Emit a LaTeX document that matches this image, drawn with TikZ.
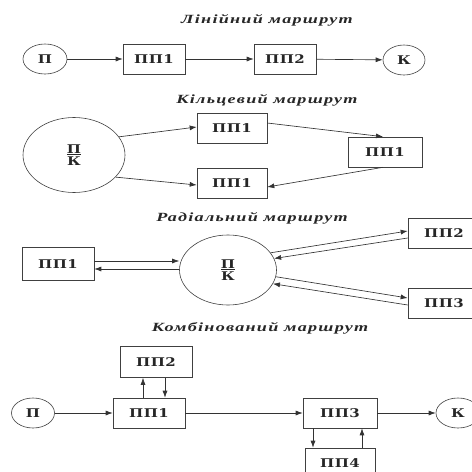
\documentclass[tikz,border=0pt]{standalone}
\usepackage{fontspec}
\setmainfont{Liberation Serif}
\newfontfamily\boxfont[FakeStretch=1.25,LetterSpace=4]{DejaVu Serif}
\newfontfamily\titlefont[FakeStretch=1.45,LetterSpace=10]{Liberation Serif}
\usetikzlibrary{positioning}
\usetikzlibrary{shapes.geometric}
\usetikzlibrary{arrows.meta}
\tikzset{
  route/.style={font=\titlefont\bfseries\itshape\fontsize{12.5}{14}\selectfont, text=black!85},
  pp/.style={draw=black!75, line width=0.6pt, rectangle, minimum width=66pt, minimum height=30pt, inner sep=0pt, font=\boxfont\bfseries\fontsize{12}{14}\selectfont, text=black!85},
  term/.style={draw=black!75, line width=0.6pt, ellipse, minimum width=44pt, minimum height=30pt, inner sep=0pt, font=\boxfont\bfseries\fontsize{12}{14}\selectfont, text=black!85},
  hub/.style={draw=black!75, line width=0.6pt, ellipse, align=center, inner sep=0pt, font=\boxfont\bfseries\fontsize{12}{12.5}\selectfont, text=black!85},
  go/.style={-{Latex[length=7pt,width=5pt]}, draw=black!80, line width=0.65pt}
}

\begin{document}
\begin{tikzpicture}[x=1pt, y=-1pt]
  \useasboundingbox (0,0) rectangle (472,472);

  % linear route
  \node [route] at (267,20) (t1) {Лінійний маршрут};
  \node [term] at (45,59) (p1) {П};
  \node [pp, minimum width=62pt] at (154,59) (pp11) {ПП1};
  \node [pp, minimum width=62pt] at (285,59) (pp12) {ПП2};
  \node [term, minimum width=42pt] at (404,60) (k1) {К};
  \draw [go] (p1) -- (pp11);
  \draw [go] (pp11) -- (pp12);
  \draw [go] (pp12) -- (k1);

  % ring route
  \node [route] at (267,100) (t2) {Кільцевий маршрут};
  \node [hub, minimum width=102pt, minimum height=75pt] at (74,155) (h2) {\underline{П}\\К};
  \node [pp, minimum width=70pt] at (232,128) (pp21) {ПП1};
  \node [pp, minimum width=74pt] at (385,152) (pp22) {ПП1};
  \node [pp, minimum width=70pt] at (232,183) (pp23) {ПП1};
  \draw [go] (h2.22) -- ([yshift=1pt]pp21.west);
  \draw [go] ([yshift=5pt]pp21.east) -- ([xshift=-2pt]pp22.north);
  \draw [go] ([xshift=-2pt]pp22.south) -- ([yshift=-4pt]pp23.east);
  \draw [go] (h2.-28) -- ([yshift=-2pt]pp23.west);

  % radial route
  \node [route] at (252,218) (t3) {Радіальний маршрут};
  \node [pp, minimum width=72pt, minimum height=33pt] at (58,264) (pp31) {ПП1};
  \node [hub, minimum width=97pt, minimum height=70pt] at (228,270) (h3) {\underline{П}\\К};
  \node [pp, minimum width=72pt] at (444,233) (pp32) {ПП2};
  \node [pp, minimum width=72pt] at (444,303) (pp33) {ПП3};
  \draw [go] ([yshift=3pt]pp31.east) -- ([yshift=3pt]pp31.east -| h3.west);
  \draw [go] ([yshift=-5pt]pp31.east -| h3.west) -- ([yshift=-5pt]pp31.east);
  \draw [go] (h3.22) -- ([yshift=2pt]pp32.west);
  \draw [go] ([yshift=-5pt]pp32.west) -- (h3.14);
  \draw [go] (h3.-8) -- ([yshift=5pt]pp33.west);
  \draw [go] ([yshift=-2pt]pp33.west) -- (h3.-17);

  % combined route
  \node [route] at (260,328) (t4) {Комбінований маршрут};
  \node [term, minimum width=43pt] at (33,413) (p4) {П};
  \node [pp, minimum width=72pt] at (149,413) (pp41) {ПП1};
  \node [pp, minimum width=72pt, minimum height=31pt] at (156,362) (pp42) {ПП2};
  \node [pp, minimum width=74pt] at (340,413) (pp43) {ПП3};
  \node [pp, minimum width=70pt] at (340,463) (pp44) {ПП4};
  \node [term, minimum width=44pt] at (458,413) (k4) {К};
  \draw [go] (p4) -- (pp41);
  \draw [go] (pp41) -- (pp43);
  \draw [go] (pp43) -- (k4);
  \draw [go] ([xshift=-6pt]pp41.north) -- ([xshift=-13pt]pp42.south);
  \draw [go] ([xshift=9pt]pp42.south) -- ([xshift=16pt]pp41.north);
  \draw [go] ([xshift=-27pt]pp43.south) -- ([xshift=-27pt]pp44.north);
  \draw [go] ([xshift=22pt]pp44.north) -- ([xshift=22pt]pp43.south);
\end{tikzpicture}
\end{document}
